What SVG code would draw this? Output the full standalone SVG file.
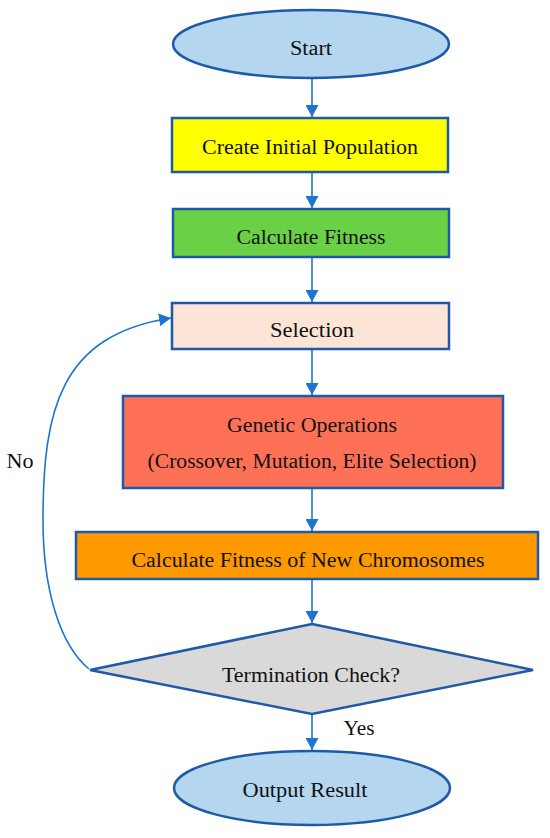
<svg xmlns="http://www.w3.org/2000/svg" width="550" height="838" viewBox="0 0 550 838">
<defs>
<marker id="ah" markerUnits="userSpaceOnUse" markerWidth="13" markerHeight="13" refX="12" refY="6.5" orient="auto">
<path d="M0,0 L12,6.5 L0,13 z" fill="#1F74CF"/>
</marker>
<style>
.n{stroke:#1F5AA6;stroke-width:2.5}
.t{font-family:"Liberation Serif","Times New Roman",serif;font-size:20px;fill:#111;text-anchor:middle}
.c{fill:none;stroke:#1F74CF;stroke-width:1.6}
</style>
</defs>
<rect width="550" height="838" fill="#fff"/>
<g id="connectors">
<path class="c" d="M312,78 V117" marker-end="url(#ah)"/>
<path class="c" d="M312,172 V208" marker-end="url(#ah)"/>
<path class="c" d="M312,257 V302" marker-end="url(#ah)"/>
<path class="c" d="M312,349 V395" marker-end="url(#ah)"/>
<path class="c" d="M312,488 V531" marker-end="url(#ah)"/>
<path class="c" d="M312,579 V623" marker-end="url(#ah)"/>
<path class="c" d="M312,714 V750" marker-end="url(#ah)"/>
<path class="c" d="M89,669 C60,645 43,590 43,520 C43,410 60,335 171,318" marker-end="url(#ah)"/>
<text class="t" x="359" y="735" textLength="31" lengthAdjust="spacingAndGlyphs">Yes</text>
<text class="t" x="20" y="468" textLength="27" lengthAdjust="spacingAndGlyphs">No</text>
</g>
<g id="start">
<ellipse class="n" cx="311" cy="44" rx="138" ry="34" fill="#B4D6EF"/>
<text class="t" x="311" y="55" textLength="42" lengthAdjust="spacingAndGlyphs">Start</text>
</g>
<g id="init">
<rect class="n" x="172" y="118" width="276" height="54" fill="#FFFF00"/>
<text class="t" x="310" y="154" textLength="216" lengthAdjust="spacingAndGlyphs">Create Initial Population</text>
</g>
<g id="fitness">
<rect class="n" x="173" y="209" width="276" height="48" fill="#6AD046"/>
<text class="t" x="311" y="244" textLength="149" lengthAdjust="spacingAndGlyphs">Calculate Fitness</text>
</g>
<g id="selection">
<rect class="n" x="172" y="303" width="277" height="46" fill="#FCE4D7"/>
<text class="t" x="312" y="337" textLength="84" lengthAdjust="spacingAndGlyphs">Selection</text>
</g>
<g id="genetic">
<rect class="n" x="123" y="396" width="380" height="92" fill="#FF7157"/>
<text class="t" x="312" y="432" textLength="170" lengthAdjust="spacingAndGlyphs">Genetic Operations</text>
<text class="t" x="312" y="468" textLength="329" lengthAdjust="spacingAndGlyphs">(Crossover, Mutation, Elite Selection)</text>
</g>
<g id="newfitness">
<rect class="n" x="76" y="532" width="462" height="47" fill="#FF9900"/>
<text class="t" x="308" y="567" textLength="353" lengthAdjust="spacingAndGlyphs">Calculate Fitness of New Chromosomes</text>
</g>
<g id="check">
<path class="n" d="M312,624 L533,670 L312,714 L90,670 Z" fill="#D9D9D9"/>
<text class="t" x="311" y="682" textLength="178" lengthAdjust="spacingAndGlyphs">Termination Check?</text>
</g>
<g id="output">
<ellipse class="n" cx="312" cy="788" rx="138" ry="37" fill="#B4D6EF"/>
<text class="t" x="305" y="797" textLength="125" lengthAdjust="spacingAndGlyphs">Output Result</text>
</g>
</svg>
